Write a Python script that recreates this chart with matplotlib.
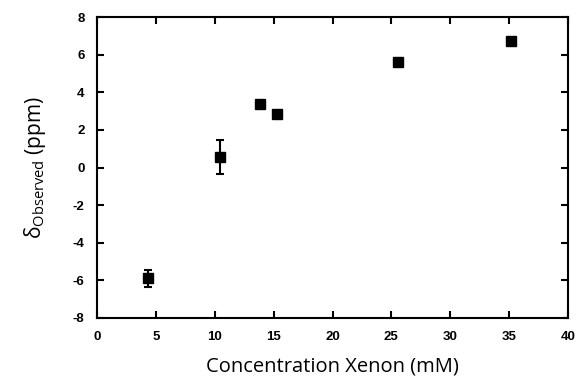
import matplotlib
matplotlib.use("Agg")
import matplotlib.pyplot as plt

# Xenon concentration (mM) vs observed shift (ppm)
conc = [4.3, 10.45, 13.85, 15.3, 25.6, 35.2]
shift = [-5.9, 0.55, 3.4, 2.85, 5.6, 6.72]
err = [0.45, 0.9, 0, 0, 0, 0]
xticks = [0, 5, 10, 15, 20, 25, 30, 35, 40]
yticks = [-8, -6, -4, -2, 0, 2, 4, 6, 8]

fig = plt.figure(figsize=(5.76, 3.86), dpi=100)
ax = fig.add_axes([97 / 576, 1 - 318 / 386, (568 - 97) / 576, (318 - 17) / 386])

ax.errorbar(conc, shift, yerr=err, fmt="s", color="black", ms=7.5,
            ecolor="black", elinewidth=1.5, capsize=3, capthick=1.5)

ax.set_xlim(0, 40)
ax.set_ylim(-8, 8)
ax.set_xticks(xticks)
ax.set_yticks(yticks)
ax.set_xticklabels([str(t) for t in xticks], fontsize=9.5, fontweight="bold",
                   family="Liberation Sans")
ax.set_yticklabels([str(t) for t in yticks], fontsize=9.5, fontweight="bold",
                   family="Liberation Sans")
ax.tick_params(direction="in", top=True, right=True, length=5, width=1.5, pad=9)
for s in ax.spines.values():
    s.set_linewidth(1.5)

ax.set_xlabel("Concentration Xenon (mM)", fontsize=14.5, family="Open Sans",
              fontweight="medium", labelpad=10)
ax.set_ylabel("δ$_{\\mathregular{Observed}}$ (ppm)", fontsize=15, family="Open Sans",
              labelpad=18)

fig.savefig("out.png", dpi=100)
